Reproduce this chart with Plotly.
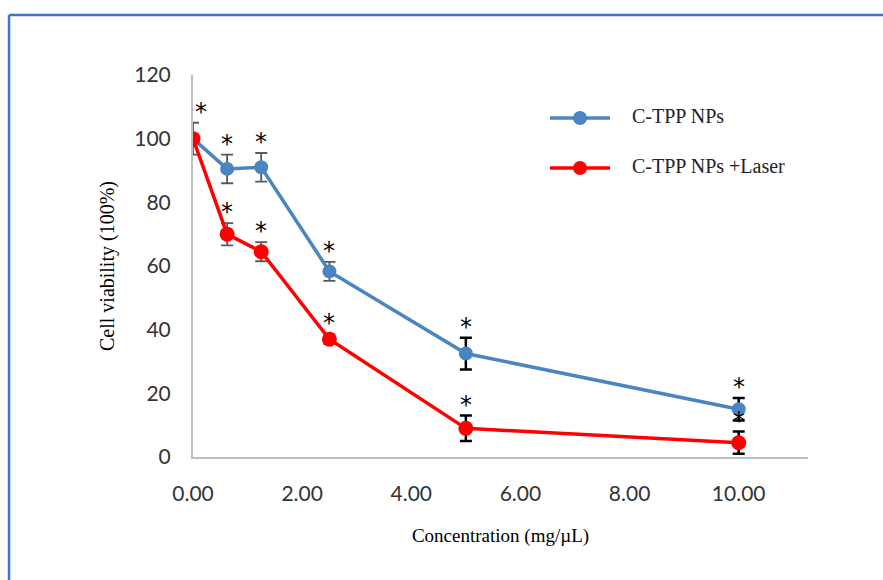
import plotly.graph_objects as go

conc = [0.0, 0.625, 1.25, 2.5, 5.0, 10.0]
blue_vals = [100, 90.5, 91, 58.3, 32.5, 15]
blue_err = [5, 4.5, 4.5, 3, 5, 3.5]
red_vals = [100, 70, 64.5, 37, 9, 4.5]
red_err = [0, 3.5, 3, 1.5, 4, 3.5]
blue_name = "C-TPP NPs"
red_name = "C-TPP NPs +Laser"
blue_stars = ["*", "*", "*", "*", "*", "*"]
red_stars = ["", "*", "*", "*", "*", "*"]
x_ticks = [0, 2, 4, 6, 8, 10]
x_ticklabels = ["0.00", "2.00", "4.00", "6.00", "8.00", "10.00"]
y_ticks = [0, 20, 40, 60, 80, 100, 120]

BLUE = "#4a85c1"
RED = "#ff0000"
ERR_GRAY = "#595959"

fig = go.Figure()

def err_trace(xs, ys, es, color, thick, width):
    return go.Scatter(x=xs, y=ys, mode="markers",
                      marker=dict(size=1, color="rgba(0,0,0,0)"),
                      error_y=dict(type="data", array=es, color=color, thickness=thick, width=width),
                      showlegend=False, hoverinfo="skip")

fig.add_trace(err_trace(conc[:4], blue_vals[:4], blue_err[:4], ERR_GRAY, 1.8, 6))
fig.add_trace(err_trace(conc[4:], blue_vals[4:], blue_err[4:], "black", 2.5, 6))
fig.add_trace(err_trace(conc[:4], red_vals[:4], red_err[:4], ERR_GRAY, 1.8, 6))
fig.add_trace(err_trace(conc[4:], red_vals[4:], red_err[4:], "black", 2.5, 6))

fig.add_trace(go.Scatter(x=conc, y=blue_vals, mode="lines+markers", name=blue_name,
                         line=dict(color=BLUE, width=3.5),
                         marker=dict(symbol="circle", size=14, color=BLUE), showlegend=False))
fig.add_trace(go.Scatter(x=conc, y=red_vals, mode="lines+markers", name=red_name,
                         line=dict(color=RED, width=3.5),
                         marker=dict(symbol="circle", size=15, color=RED), showlegend=False))

annotations = []
for xv, yv, ev, s in zip(conc, blue_vals, blue_err, blue_stars):
    if s:
        annotations.append(dict(x=xv, y=yv + ev, text=s, showarrow=False, yanchor="bottom",
                                xanchor="center", xshift=(8 if xv == 0 else 0), yshift=-5,
                                font=dict(family="DejaVu Sans", size=24, color="black")))
for xv, yv, ev, s in zip(conc, red_vals, red_err, red_stars):
    if s:
        annotations.append(dict(x=xv, y=yv + ev, text=s, showarrow=False, yanchor="bottom",
                                xanchor="center", yshift=-5,
                                font=dict(family="DejaVu Sans", size=24, color="black")))

# plot-area geometry in pixels
L, R, T, B = 193, 75, 75, 123
PW, PH = 883 - L - R, 580 - T - B
def px(x):
    return (x - L) / PW
def py(y):
    return (580 - B - y) / PH

shapes = [
    dict(type="line", xref="paper", yref="paper", x0=px(9), x1=px(883), y0=py(15), y1=py(15),
         line=dict(color="#4472c4", width=2.5)),
    dict(type="line", xref="paper", yref="paper", x0=px(9), x1=px(9), y0=py(15), y1=py(580),
         line=dict(color="#4472c4", width=2.5)),
]

# legend (drawn manually to match the long legend lines)
for name, color, ly in [(blue_name, BLUE, 118), (red_name, RED, 168)]:
    shapes.append(dict(type="line", xref="paper", yref="paper", x0=px(550), x1=px(610),
                       y0=py(ly), y1=py(ly), line=dict(color=color, width=3.5)))
    shapes.append(dict(type="circle", xref="paper", yref="paper", x0=px(573), x1=px(587),
                       y0=py(ly + 7), y1=py(ly - 7), fillcolor=color, line=dict(color=color, width=0)))
    annotations.append(dict(xref="paper", yref="paper", x=px(630), y=py(ly - 2), text=name,
                            showarrow=False, xanchor="left", yanchor="middle",
                            font=dict(family="Liberation Serif", size=20, color="#222222")))

fig.update_layout(
    width=883, height=580,
    margin=dict(l=L, r=R, t=T, b=B),
    paper_bgcolor="white", plot_bgcolor="white",
    showlegend=False,
    annotations=annotations,
    shapes=shapes,
    xaxis=dict(range=[0, 11.27], tickvals=x_ticks, ticktext=x_ticklabels,
               showgrid=False, zeroline=False, showline=True, linecolor="#bfbfbf", linewidth=2,
               ticks="", ticklabelstandoff=17, tickfont=dict(family="Lato", size=21, color="#333333"),
               title=dict(text="Concentration (mg/µL)", standoff=24,
                          font=dict(family="Liberation Serif", size=19, color="black"))),
    yaxis=dict(range=[0, 120], tickvals=y_ticks,
               showgrid=False, zeroline=False, showline=True, linecolor="#bfbfbf", linewidth=2,
               ticks="", ticklabelstandoff=16, tickfont=dict(family="Lato", size=21, color="#333333"),
               title=dict(text="Cell viability (100%)", standoff=14,
                          font=dict(family="Liberation Serif", size=20, color="black"))),
)

fig.write_html("out.html", config={"displayModeBar": False},
               post_script="document.body.style.margin='0';document.body.style.padding='0';")
